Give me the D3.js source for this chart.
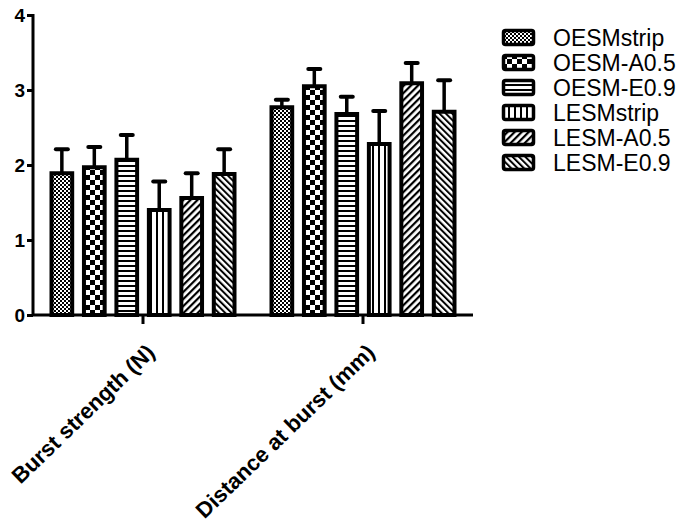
<!DOCTYPE html>
<meta charset="utf-8">
<style>
body { margin: 0; background: #fff; }
text { font-family: "Liberation Sans", Arial, sans-serif; }
.tick-lab { font-size: 19px; font-weight: bold; }
.cat-lab { font-size: 22px; font-weight: bold; }
.leg-lab { font-size: 23px; }
</style>
<svg width="680" height="524"></svg>
<script src="https://d3js.org/d3.v7.min.js"></script>
<script>
var categories = ["Burst strength (N)", "Distance at burst (mm)"];
var seriesNames = ["OESMstrip", "OESM-A0.5", "OESM-E0.9", "LESMstrip", "LESM-A0.5", "LESM-E0.9"];
// mean values per series, one entry per category
var means = [
  [1.89, 2.77],
  [1.97, 3.05],
  [2.07, 2.68],
  [1.40, 2.28],
  [1.56, 3.09],
  [1.88, 2.71]
];
// upper error bar end
var errTops = [
  [2.21, 2.87],
  [2.24, 3.28],
  [2.40, 2.91],
  [1.78, 2.72],
  [1.89, 3.36],
  [2.21, 3.13]
];
var yTicks = [0, 1, 2, 3, 4];

var svg = d3.select("svg");
var x0 = 33, x1 = 473, yBase = 315, yTop = 15;

var x = d3.scaleBand().domain(categories).range([x0, x1]).paddingInner(0).paddingOuter(0);
var xs = d3.scaleBand().domain(seriesNames).range([17, 220 - 17]).paddingInner(0.27).paddingOuter(0);
var y = d3.scaleLinear().domain([0, 4]).range([yBase, yTop]);

// patterns
var defs = svg.append("defs");
function pat(id, w, h) {
  var p = defs.append("pattern").attr("id", id).attr("patternUnits", "userSpaceOnUse")
    .attr("width", w).attr("height", h);
  p.append("rect").attr("width", w).attr("height", h).attr("fill", "#fff");
  return p;
}
var p1 = pat("p0", 4, 4);
p1.append("rect").attr("width", 2).attr("height", 2).attr("fill", "#000");
p1.append("rect").attr("x", 2).attr("y", 2).attr("width", 2).attr("height", 2).attr("fill", "#000");
var p2 = pat("p1", 10, 10);
p2.append("rect").attr("width", 5).attr("height", 5).attr("fill", "#000");
p2.append("rect").attr("x", 5).attr("y", 5).attr("width", 5).attr("height", 5).attr("fill", "#000");
var p3 = pat("p2", 5, 5);
p3.append("rect").attr("width", 5).attr("height", 2).attr("fill", "#000");
var p4 = pat("p3", 6, 6);
p4.append("rect").attr("width", 2).attr("height", 6).attr("fill", "#000");
var p5 = pat("p4", 5, 5).attr("patternTransform", "rotate(45)");
p5.append("rect").attr("width", 2.2).attr("height", 5).attr("fill", "#000");
var p6 = pat("p5", 4.5, 4.5).attr("patternTransform", "rotate(-45)");
p6.append("rect").attr("width", 2).attr("height", 4.5).attr("fill", "#000");

// bars
var data = [];
seriesNames.forEach(function (s, i) {
  categories.forEach(function (c, j) {
    data.push({ s: s, i: i, c: c, v: means[i][j], e: errTops[i][j] });
  });
});

var g = svg.append("g");
// error bars (upper only)
g.selectAll(".err").data(data).enter().append("line")
  .attr("x1", d => x(d.c) + xs(d.s) + xs.bandwidth() / 2)
  .attr("x2", d => x(d.c) + xs(d.s) + xs.bandwidth() / 2)
  .attr("y1", d => y(d.v)).attr("y2", d => y(d.e))
  .attr("stroke", "#000").attr("stroke-width", 3.5);
g.selectAll(".cap").data(data).enter().append("line")
  .attr("x1", d => x(d.c) + xs(d.s) + xs.bandwidth() / 2 - 6)
  .attr("x2", d => x(d.c) + xs(d.s) + xs.bandwidth() / 2 + 6)
  .attr("y1", d => y(d.e)).attr("y2", d => y(d.e))
  .attr("stroke", "#000").attr("stroke-width", 4).attr("stroke-linecap", "round");
g.selectAll(".bar").data(data).enter().append("rect")
  .attr("x", d => x(d.c) + xs(d.s) + 1.5)
  .attr("width", xs.bandwidth() - 3)
  .attr("y", d => y(d.v))
  .attr("height", d => yBase - y(d.v))
  .attr("fill", d => "url(#p" + d.i + ")")
  .attr("stroke", "#000").attr("stroke-width", 4);

// y axis
var ya = svg.append("g").attr("transform", "translate(" + x0 + ",0)")
  .call(d3.axisLeft(y).tickValues(yTicks).tickSize(6).tickFormat(d3.format("d")));
ya.select(".domain").attr("stroke-width", 3).attr("d", "M0," + (yTop - 1) + "V" + (yBase + 1));
ya.selectAll(".tick line").attr("stroke-width", 3);
ya.selectAll(".tick text").attr("class", "tick-lab").attr("x", -8).attr("fill", "#000").attr("dy", "0.36em");

// x axis
var xa = svg.append("g").attr("transform", "translate(0," + yBase + ")")
  .call(d3.axisBottom(x).tickSize(9).tickFormat(""));
xa.select(".domain").attr("stroke-width", 3).attr("d", "M" + (x0 - 1) + ",0H" + x1);
xa.selectAll(".tick line").attr("stroke-width", 3);

svg.append("g").selectAll("text").data(categories).enter().append("text")
  .attr("class", "cat-lab")
  .attr("text-anchor", "end")
  .attr("transform", d => "translate(" + (x(d) + x.bandwidth() / 2 + 13) + "," + (yBase + 39) + ") rotate(-44)")
  .text(d => d);

// legend
var leg = svg.append("g").selectAll("g").data(seriesNames).enter().append("g")
  .attr("transform", (d, i) => "translate(502," + (29 + i * 25) + ")");
leg.append("rect").attr("x", 1.5).attr("y", 1.5).attr("width", 30).attr("height", 14)
  .attr("rx", 2)
  .attr("fill", (d, i) => "url(#p" + i + ")")
  .attr("stroke", "#000").attr("stroke-width", 3.5);
leg.append("text").attr("class", "leg-lab").attr("x", 51).attr("y", 9).attr("dy", "0.36em")
  .text(d => d);
</script>
